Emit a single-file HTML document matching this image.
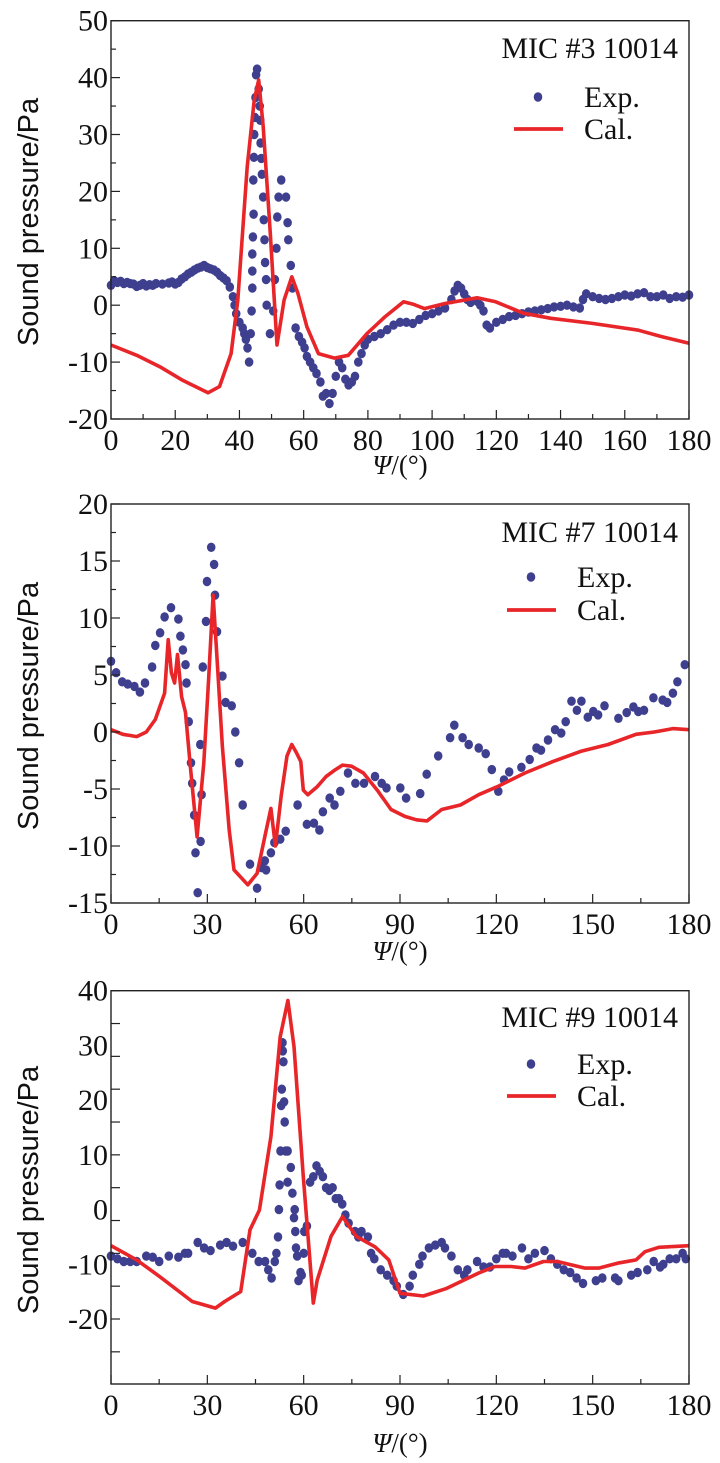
<!DOCTYPE html>
<html><head><meta charset="utf-8"><style>
body{margin:0;background:#fff}
svg{display:block}
text{font-family:"Liberation Serif",serif;fill:#111}
</style></head><body>
<svg id="s" width="720" height="1463" viewBox="0 0 720 1463"></svg>
<script>
// Panel 1 (MIC #3)
const p1ExpX=[0,1,2,3,4,5,6,7,8,9,10,11,12,13,14,16,18,19,20,21,22,23,24,25,26,27,28,29,30,31,32,33,34,35,36,37,38,38.5,39,40,41,41.5,42,42.5,43,43.5,43.8,44,44,44,44.2,44.4,44.3,44.5,44.6,44.8,45,45.2,45.5,46,46.3,46.5,46.6,46.8,47,47.4,47.6,47.8,48,48.3,48.5,49.5,50.5,51,51.5,51.8,52.2,53,54.5,55,55.2,56,56.5,57.5,58.5,59.5,60.3,61,62,63,64,65.2,66,67,68,69,70,71,72,73,74,75,76,77,78,79,80,82,84,86,88,90,92,94,96,98,100,102,104,106,107,108,109,110,111,112,114,115,116,117,118,120,122,124,126,128,130,132,134,136,138,140,142,144,146,147,148,150,152,154,156,158,160,162,164,166,168,170,172,174,176,178,180];
const p1ExpY=[3.5,4.3,4,4.2,3.8,4,3.8,3.7,3.3,3.5,3.8,3.4,3.6,3.5,3.8,3.7,3.9,4.1,3.7,4,4.6,5,5.5,5.8,6.2,6.5,6.7,7,6.6,6.4,6.2,5.8,5.2,4.8,4.3,3.2,1.5,0,-1.5,-3,-4,-5,-6,-7.5,-10,-5,-1,3,6,9,12,16,22,26,30,33,36.5,40.5,41.5,38,35,32.5,28.5,25.8,23,19,15,11.5,7.5,4.5,0,-5,-1,4.5,10,15.5,19,22,19,14.5,11.5,7,3,-4,-5.5,-6.5,-7.5,-9,-10,-11,-12,-13.5,-16,-15.5,-17.3,-15.5,-12.5,-10,-11,-13,-14,-13.5,-12.5,-10,-8.5,-7,-6,-5.5,-5,-4.3,-3.5,-3,-3,-3.2,-2.5,-1.8,-1.5,-1,-0.5,1,2.5,3.5,3,2,1,0.5,0.7,0,-1,-3.5,-4,-3,-2.5,-2,-1.8,-1.5,-1.2,-1,-0.8,-0.6,-0.3,-0.2,0,-0.3,-0.5,1,2,1.5,1.2,1,1.2,1.5,1.8,1.6,2,2.2,1.5,1.5,1.8,1.2,1.5,1.4,1.8];
const p1CalX=[0,8,15.2,22.3,30.2,33.8,37.4,39.5,42.4,44.6,46,47.4,49.6,51.7,53.9,56.3,58.2,61,64.6,69.6,73.9,79.7,85.4,91.1,94,97.6,104,114,119.8,128.4,137,149.9,164.2,171.3,180];
const p1CalY=[-7,-8.8,-10.8,-13.2,-15.4,-14.3,-8.5,0.9,24.3,36,39.6,31.4,12.6,-7,0.9,5,2.1,-3.8,-8.5,-9.3,-8.8,-5,-2,0.6,0.2,-0.6,0.3,1.3,0.6,-1.4,-2.3,-3.2,-4.4,-5.5,-6.7];
const p1YTickLabels=["50","40","30","20","10","0","-10","-20"];
const p1XTickLabels=["0","20","40","60","80","100","120","140","160","180"];
// Panel 2 (MIC #7)
const p2ExpX=[0,1.6,3.5,5.2,7.3,9,10.6,12.8,13.8,15.3,16.7,18.7,21,21.6,22.4,23.2,23.5,24.2,24.9,25.3,25.9,26.3,27,27.8,27.9,28.2,28.6,29.6,29.9,31.2,32.1,32.4,33,34.7,35.7,37.6,38.7,39.9,41,43.3,45.5,46.9,47.9,48.3,49.8,50.9,52.7,54.4,58.1,61,63.2,64.9,66,68.1,69.6,71.4,73.8,76.1,78.8,82.2,84.3,85.8,90.1,91.9,96.3,98.3,101.9,105.6,106.9,109.5,111.4,114.5,116.7,118.6,120.6,122.4,124,127.8,130.4,132.5,133.9,136.1,138.3,140.2,141.6,143.4,145.1,146.5,148.5,150.2,151.7,153.7,158,160.6,162.7,164.2,166,168.9,171.8,173.2,175,176.4,178.7];
const p2ExpY=[6.2,5.2,4.4,4.2,4,3.5,4.3,5.7,7.6,8.7,10.1,10.9,9.9,8.4,7.2,5.9,4.3,0.9,-2.7,-4.5,-7.3,-10.6,-14.1,-1.1,-9.6,-5.5,5.7,9.7,13.2,16.2,14.7,12,8.8,4.9,2.6,2.3,0,-2.7,-6.4,-11.6,-13.7,-11.9,-11.3,-12.1,-10.6,-9.7,-9.4,-8.7,-6.4,-8.1,-8,-8.6,-7,-5.8,-6.4,-5.2,-3.6,-4.5,-4.5,-3.9,-4.5,-4.9,-4.9,-5.8,-5.4,-3.7,-2.1,-0.5,0.6,-0.5,-1.1,-1.4,-1.9,-3.3,-5.2,-4.2,-3.5,-3.1,-2.4,-1.4,-1.6,-0.7,0.2,-0.1,0.9,2.7,1.9,2.7,1.3,1.8,1.5,2.3,1.2,1.7,2.2,1.8,1.9,3,2.8,2.6,3.4,4.4,5.9];
const p2CalX=[0,3.7,8,11,13.8,16.7,17.8,18.8,19.8,20.7,22,23.2,24.6,26.8,28.9,30.4,31.8,32.8,34.7,36.8,38.3,42.6,45.5,48.1,49.8,51.2,53,54.8,56.3,57.7,59.1,59.9,61.3,64.2,67,69.9,72.1,74.9,78.6,82.9,87.2,91.5,95.1,98.4,103,108.8,114.5,120.3,128.9,137.6,146.2,154.8,163.5,169.2,175,180];
const p2CalY=[0.2,-0.2,-0.4,0,1.1,3.4,8.1,5.2,4.3,6.8,3.1,1.7,-2.7,-9.2,-2.7,4.6,12,7.5,-1.3,-8.6,-12.1,-13.4,-12.4,-8.9,-6.7,-10,-5.6,-2.1,-1.1,-1.8,-2.6,-5.1,-5.5,-4.8,-3.9,-3.3,-2.9,-3,-3.6,-5.1,-6.8,-7.4,-7.7,-7.8,-6.8,-6.4,-5.5,-4.8,-3.6,-2.6,-1.7,-1.1,-0.2,0,0.3,0.2];
const p2YTickLabels=["20","15","10","5","0","-5","-10","-15"];
const p2XTickLabels=["0","30","60","90","120","150","180"];
// Panel 3 (MIC #9)
const p3ExpX=[0,2,4,6,8,11,13,15,18,21,23,24,27,29,31,34,36,38,41,44,46,48,49,50,51,51.5,52,52.3,52.5,52.8,53,53.2,53.4,53.5,53.7,53.9,54.1,54.4,55,55,56,56.5,57,57.2,57.4,57.6,58,58.4,59,59.4,60,60.2,61,62,63,64,65,66,67,68,69,70,71,72,73,74,76,77,78,80,81,82,84,86,88,89,91,93,94,96,97,99,101,103,104,106,108,110,111,114,116,118,120,122,123,125,128,130,132,135,137,139,141,143,145,147,151,153,157,158,162,164,167,169,171,172,174,176,178,179];
const p3ExpY=[-8.5,-9,-9.5,-9.5,-9.5,-8.5,-8.7,-9.5,-8.5,-8.7,-8,-8,-6,-7,-7.5,-6.5,-6,-6.7,-6,-8,-9.5,-9.5,-11,-12.5,-9.5,-8,-5,0,4.5,10.7,19,22,30.5,29,27,19.7,16,10.7,10.7,5,7.7,3,-1.5,0,-4,-7,-8.5,-13,-11.5,-12,-8,-4,-3,5,6,8,7,6,4,3.5,4,2,2,1,-1,-2.5,-4,-5,-4,-5,-8,-9,-11,-12,-13,-14,-15.5,-14,-12,-10,-8.5,-7,-6.5,-6,-7,-8.5,-11,-12,-11,-9.5,-10.5,-10.5,-9,-8,-8,-8.5,-7,-9,-8,-7.5,-9,-10,-11,-11.5,-12.5,-13.5,-13,-12.5,-12.5,-13,-12,-11.5,-11,-9.5,-10.5,-10,-9,-9,-8,-9];
const p3CalX=[0,8,15.3,25.3,32.5,35.4,40.4,43.3,46.2,49.8,52.7,55.1,57,59.9,63,64.2,68.5,72.1,76.4,82.2,86.5,90,97.3,104.5,114.5,119.6,124.6,128.9,134.7,139,147.6,151.9,157.7,163.5,166.3,170.6,180];
const p3CalY=[-6.6,-9.2,-12.3,-16.8,-18,-16.8,-15,-3.7,-0.1,13.3,31.6,38.2,29.8,6,-17.1,-12.9,-4.9,-1.3,-4.9,-6.8,-9.2,-15.3,-15.8,-14.4,-11.6,-10.4,-10.4,-10.7,-9.5,-9.5,-10.7,-10.7,-9.8,-9.2,-7.7,-6.9,-6.6];
const p3YTickLabels=["40","30","20","10","0","-10","-20"];
const p3XTickLabels=["0","30","60","90","120","150","180"];

const NS="http://www.w3.org/2000/svg";
const svg=document.getElementById('s');
function mk(tag,attrs,parent){const e=document.createElementNS(NS,tag);for(const k in attrs)e.setAttribute(k,attrs[k]);(parent||svg).appendChild(e);return e;}

function panel(cfg){
  const g=mk('g',{});
  
  
  const L=111,R=689,T=cfg.top,B=cfg.bottom;
  const sx=v=>L+(v-0)/180*(R-L);
  const sy=v=>cfg.y0px+(cfg.yMax-v)*cfg.ppu;
  let d='';
  cfg.calX.forEach((x,i)=>{d+=(i?'L':'M')+sx(x).toFixed(1)+' '+sy(cfg.calY[i]).toFixed(1);});
  const dots=mk('g',{},g);
  
  
  cfg.expX.forEach((x,i)=>{
    const c=mk('ellipse',{cx:sx(x).toFixed(1),cy:sy(cfg.expY[i]).toFixed(1),rx:4.3,ry:4.7,fill:'#3f3f8f'},dots);
    
    
  });
  const line=mk('path',{d:d,fill:'none',stroke:'#e8262a','stroke-width':3.6,'stroke-linejoin':'round'},g);
  
  
  const fr=mk('rect',{x:L,y:T,width:R-L,height:B-T,fill:'none',stroke:'#222','stroke-width':1.4},g);
  
  
  for(let v=0;v<=180;v+=cfg.xMinor){
    const major=(v%cfg.xMajor)===0;
    mk('line',{x1:sx(v),x2:sx(v),y1:B,y2:B-(major?9:5),stroke:'#222','stroke-width':1.2},g);
  }
  cfg.xLabels.forEach((s,i)=>{
    const t=mk('text',{x:sx(i*cfg.xMajor),y:B+31,'text-anchor':'middle','font-size':30},g);
    t.textContent=s;
    
    
  });
  for(let v=cfg.yMax;v>=cfg.yBottom-0.01;v-=cfg.yTick){
    const major=Math.abs(((cfg.yMax-v)/cfg.yMajorStep)-Math.round((cfg.yMax-v)/cfg.yMajorStep))<0.01;
    mk('line',{x1:L,x2:L+(major||cfg.allMajor?9:5),y1:sy(v),y2:sy(v),stroke:'#222','stroke-width':1.2},g);
  }
  cfg.yLabels.forEach((s,i)=>{
    const t=mk('text',{x:L-3,y:sy(cfg.yMax-i*cfg.yLabelStep)+10,'text-anchor':'end','font-size':30},g);
    t.textContent=s;
    
    
  });
  const yt=mk('text',{x:0,y:0,'text-anchor':'middle','font-size':29,transform:`translate(38,${cfg.yTitleY}) rotate(-90)`,style:'font-family:"Liberation Sans",sans-serif'},g);
  yt.textContent='Sound pressure/Pa';
  
  
  const xt=mk('text',{x:400,y:cfg.xTitleY,'text-anchor':'middle','font-size':27},g);
  xt.innerHTML='<tspan font-style="italic">Ψ</tspan>/(°)';
  
  
  const lg=mk('g',{},g);
  
  
  const mt=mk('text',{x:678,y:cfg.leg[0]+10,'text-anchor':'end','font-size':30},lg);
  mt.textContent=cfg.title;
  
  
  const ed=mk('ellipse',{cx:cfg.legDot,cy:cfg.leg[1],rx:4.3,ry:4.7,fill:'#3f3f8f'},lg);
  
  
  const et=mk('text',{x:cfg.legDot+46,y:cfg.leg[1]+10,'font-size':30},lg);
  et.textContent='Exp.';
  
  
  const cl=mk('line',{x1:cfg.legDot-24,x2:cfg.legDot+25,y1:cfg.leg[2],y2:cfg.leg[2],stroke:'#e8262a','stroke-width':3.8},lg);
  
  
  const ct=mk('text',{x:cfg.legDot+46,y:cfg.leg[2]+10,'font-size':30},lg);
  ct.textContent='Cal.';
  
  
}

panel({name:'panel-mic3',title:'MIC #3 10014',top:20.7,bottom:419,y0px:20.7,yMax:50,ppu:398.3/70,yBottom:-20,yTick:5,yMajorStep:10,yLabelStep:10,
  xMinor:10,xMajor:20,xLabels:p1XTickLabels,yLabels:p1YTickLabels,expX:p1ExpX,expY:p1ExpY,calX:p1CalX,calY:p1CalY,
  yTitleY:222,xTitleY:474,leg:[48,97,129],legDot:538});
panel({name:'panel-mic7',title:'MIC #7 10014',top:504,bottom:903,y0px:504,yMax:20,ppu:399/35,yBottom:-15,yTick:2.5,yMajorStep:5,yLabelStep:5,
  xMinor:15,xMajor:30,xLabels:p2XTickLabels,yLabels:p2YTickLabels,expX:p2ExpX,expY:p2ExpY,calX:p2CalX,calY:p2CalY,
  yTitleY:706,xTitleY:960,leg:[532,577,610],legDot:531});
panel({name:'panel-mic9',title:'MIC #9 10014',top:990.7,bottom:1384,y0px:990.7,yMax:40,ppu:328.3/60,yBottom:-31.9,yTick:6,yMajorStep:6,yLabelStep:10,allMajor:true,
  xMinor:15,xMajor:30,xLabels:p3XTickLabels,yLabels:p3YTickLabels,expX:p3ExpX,expY:p3ExpY,calX:p3CalX,calY:p3CalY,
  yTitleY:1190,xTitleY:1452,leg:[1017,1064,1096],legDot:531});
</script>
</body></html>
